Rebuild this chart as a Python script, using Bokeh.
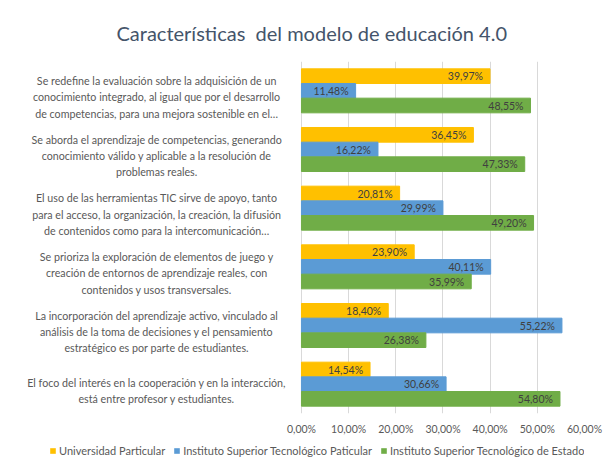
from bokeh.plotting import figure
from bokeh.layouts import column
from bokeh.models import (FactorRange, Range1d, FixedTicker, Legend, LegendItem,
                          ColumnDataSource)
from bokeh.transform import dodge
from bokeh.core.properties import value
from bokeh.embed import file_html
from bokeh.resources import INLINE

# ---------------- data ----------------
categories = [
    "Se redefine la evaluación sobre la adquisición de un\nconocimiento integrado, al igual que por el desarrollo\nde competencias, para una mejora sostenible en el…",
    "Se aborda el aprendizaje de competencias, generando\nconocimiento válido y aplicable a la resolución de\nproblemas reales.",
    "El uso de las herramientas TIC sirve de apoyo, tanto\npara el acceso, la organización, la creación, la difusión\nde contenidos como para la intercomunicación…",
    "Se prioriza la exploración de elementos de juego y\ncreación de entornos de aprendizaje reales, con\ncontenidos y usos transversales.",
    "La incorporación del aprendizaje activo, vinculado al\nanálisis de la toma de decisiones y el pensamiento\nestratégico es por parte de estudiantes.",
    "El foco del interés en la cooperación y en la interacción,\nestá entre profesor y estudiantes.",
]
series_names = [
    "Universidad Particular",
    "Instituto Superior Tecnológico Paticular",
    "Instituto Superior Tecnológico de Estado",
]
universidad_particular = [39.97, 36.45, 20.81, 23.90, 18.40, 14.54]
instituto_particular = [11.48, 16.22, 29.99, 40.11, 55.22, 30.66]
instituto_estado = [48.55, 47.33, 49.20, 35.99, 26.38, 54.80]
tick_values = [0, 10, 20, 30, 40, 50, 60]
tick_labels = ["0,00%", "10,00%", "20,00%", "30,00%", "40,00%", "50,00%", "60,00%"]
title_text = "Características\u00a0 del modelo de educación 4.0"

colors = ["#FFC000", "#5B9BD5", "#70AD47"]
FONT = "Lato"
GRAY = "#595959"
GRID = "#D9D9D9"


def fmt(v):
    return f"{v:.2f}%".replace(".", ",")


src = ColumnDataSource(dict(
    cat=categories,
    s0=universidad_particular,
    s1=instituto_particular,
    s2=instituto_estado,
    l0=[fmt(v) for v in universidad_particular],
    l1=[fmt(v) for v in instituto_particular],
    l2=[fmt(v) for v in instituto_estado],
))

p = figure(
    width=612, height=437,
    y_range=FactorRange(factors=list(reversed(categories)), range_padding=0),
    x_range=Range1d(-62.1, 60),
    output_backend="svg", toolbar_location=None,
    min_border_left=8, min_border_right=28, min_border_top=61, min_border_bottom=24,
)
p.outline_line_color = None
p.background_fill_color = "white"
p.border_fill_color = "white"

# title
p.title.text = title_text
p.title.align = "left"
p.title.offset = 108
p.title.standoff = 34
p.title.text_font = FONT
p.title.text_font_size = "20px"
p.title.text_font_style = "normal"
p.title.text_color = "#44546A"

# axes / grid
p.yaxis.visible = False
p.ygrid.visible = False
xa = p.xaxis[0]
xa.ticker = FixedTicker(ticks=tick_values)
xa.major_label_overrides = {v: l for v, l in zip(tick_values, tick_labels)}
xa.axis_line_color = None
xa.major_tick_line_color = None
xa.minor_tick_line_color = None
xa.major_label_standoff = 3
xa.major_label_text_font = FONT
xa.major_label_text_font_size = "10.5px"
xa.major_label_text_color = GRAY
p.xgrid.ticker = FixedTicker(ticks=tick_values)
p.xgrid.grid_line_color = GRID

offsets = [0.25, 0.0, -0.25]
for i in range(3):
    p.hbar(y=dodge("cat", offsets[i], range=p.y_range), left=0, right=f"s{i}",
           height=0.25, source=src, fill_color=colors[i], line_color=colors[i])
    p.text(x=f"s{i}", y=dodge("cat", offsets[i], range=p.y_range), text=f"l{i}",
           source=src, x_offset=-7, text_align="right", text_baseline="middle",
           text_font=value(FONT), text_font_size="10.5px", text_color="#404040")

# category labels
p.text(x=-30.7, y="cat", text="cat", source=src, y_offset=6,
       text_align="center", text_baseline="middle", text_line_height=1.25,
       text_font=value(FONT), text_font_size="10.7px", text_color=GRAY)

# ---------------- legend strip ----------------
lg = figure(width=612, height=30, x_range=Range1d(0, 1), y_range=Range1d(0, 1),
            output_backend="svg", toolbar_location=None,
            min_border=0, min_border_left=0, min_border_right=0,
            min_border_top=0, min_border_bottom=0)
lg.axis.visible = False
lg.grid.visible = False
lg.outline_line_color = None
lg.background_fill_color = "white"
lg.border_fill_color = "white"
# zero-width placeholder bars: only used to draw the legend swatches
legend_renderers = [lg.hbar(y=[0], left=[0], right=[0], height=0.1,
                            fill_color=colors[i], line_color=colors[i], line_alpha=0)
                    for i in range(3)]
legend = Legend(items=[LegendItem(label=series_names[i], renderers=[legend_renderers[i]])
                       for i in range(3)],
                orientation="horizontal", location=(41, 10), margin=0, padding=7,
                glyph_width=7, glyph_height=7, label_standoff=3, spacing=8,
                label_text_font=FONT, label_text_font_size="11px",
                label_text_color=GRAY, border_line_color=None,
                background_fill_alpha=0)
lg.add_layout(legend, "center")

layout = column(p, lg, spacing=0)
open("out.html", "w").write(file_html(layout, INLINE))
